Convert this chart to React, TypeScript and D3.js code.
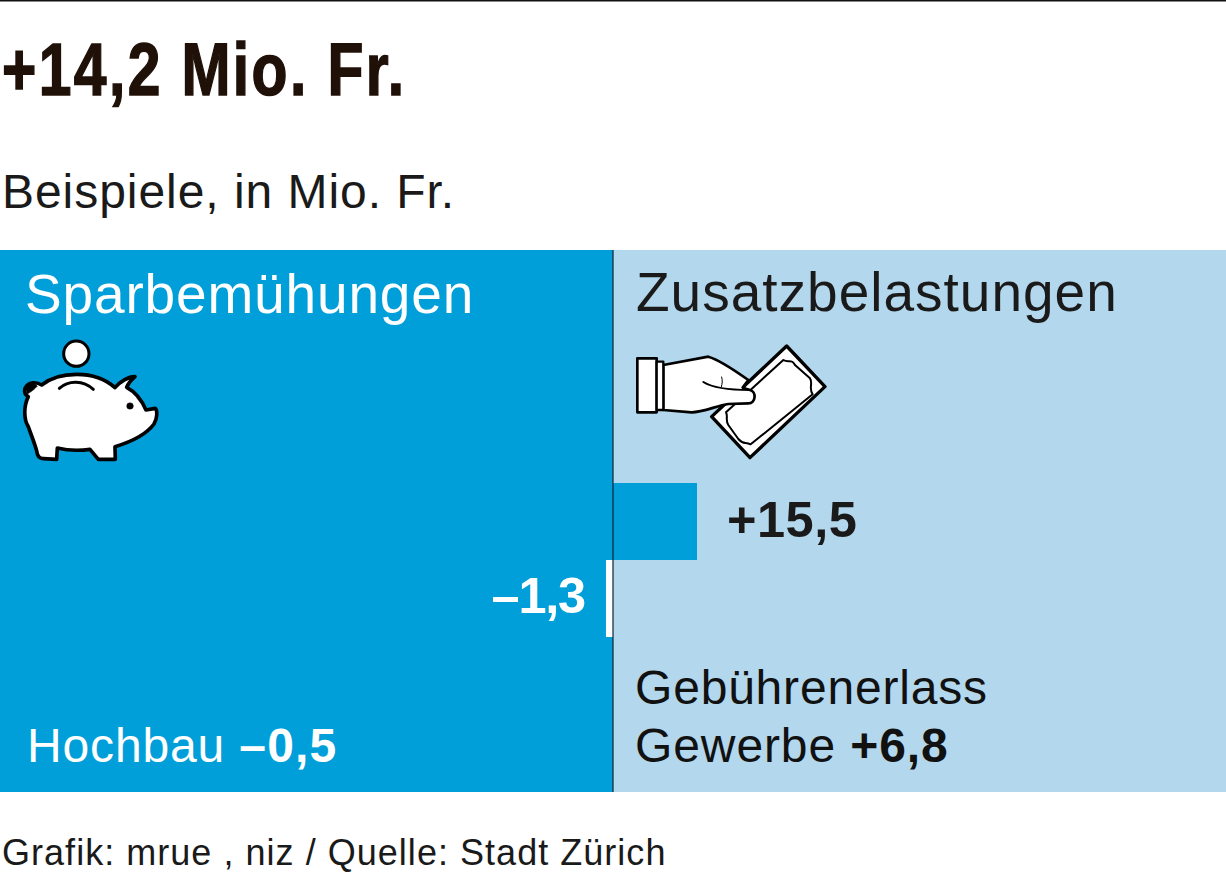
import React from "react";
import * as d3 from "d3";

const headline = "+14,2 Mio. Fr.";
const subtitle = "Beispiele, in Mio. Fr.";
const source = "Grafik: mrue , niz / Quelle: Stadt Zürich";
const leftTitle = "Sparbemühungen";
const rightTitle = "Zusatzbelastungen";
const barRows = ["Zusatz", "Spar"];
const barValues = [15.5, -1.3];
const barLabels = ["+15,5", "–1,3"];

const BLUE = "#009fda";
const LIGHT = "#b3d7ec";
const INK = "#1a1a1a";
const SANS = "'Liberation Sans', Arial, sans-serif";

const x = d3.scaleLinear().domain([0, 15.5]).range([613, 697]);
const y = d3.scaleBand<string>().domain(barRows).range([483, 637]);

function Pig() {
  return (
    <g transform="translate(0,330) scale(0.3333)" stroke="#000" strokeLinejoin="round" strokeLinecap="round">
      <circle cx={229} cy={71} r={38} fill="#fff" strokeWidth={9} />
      <path d="M85,200 C70,230 72,270 84,288 C92,310 102,335 110,362 Q112,386 130,386 L170,388 L172,354 C205,362 240,362 270,358 L295,388 L346,388 L345,350 C395,335 440,312 462,282 C472,265 473,242 466,235 L438,240 C425,210 405,185 380,172 C385,160 393,150 405,140 C385,140 360,155 345,173 C320,150 280,133 230,133 C190,133 150,145 125,165 C110,155 85,155 75,175 C70,190 78,195 85,200 Z" fill="#fff" strokeWidth={11} />
      <path d="M77,176 C84,158 100,156 112,168 C104,178 92,186 82,192 Z" fill="#000" strokeWidth={2} />
      <path d="M178,175 C205,150 250,150 280,178" fill="none" strokeWidth={9} />
      <circle cx={390} cy={228} r={10} fill="#000" strokeWidth={1} />
    </g>
  );
}

function Hand() {
  return (
    <g transform="translate(620,335) scale(0.3333)" stroke="#000" strokeLinejoin="round" strokeLinecap="round">
      <path d="M500,33 L615,155 L390,368 L275,245 Z" fill="#fff" strokeWidth={10} />
      <path d="M490,75 C505,85 515,70 525,90 L570,130 C580,145 565,160 578,178 L392,328 C375,320 370,330 355,312 L325,270 C315,255 325,245 318,232 Z" fill="#fff" strokeWidth={6} />
      <path d="M130,90 L265,65 C300,75 350,110 385,135 L368,158 L390,165 C410,170 408,205 385,205 L325,207 C290,212 250,232 215,232 L130,225 Z" fill="#fff" strokeWidth={8} />
      <path d="M250,141 C280,160 330,165 390,165" fill="none" strokeWidth={6} />
      <path d="M305,126 C308,136 307,146 304,156" fill="none" strokeWidth={3} />
      <rect x={52} y={70} width={58} height={162} fill="#fff" strokeWidth={8} />
      <rect x={110} y={80} width={20} height={145} fill="#fff" strokeWidth={7} />
    </g>
  );
}

export default function App() {
  const band = y.bandwidth();
  return (
    <svg width={1226} height={875} viewBox="0 0 1226 875" style={{ position: "absolute", left: 0, top: 0, background: "#fff" }}>
      <rect x={0} y={0} width={1226} height={1.5} fill="#111" />
      <text transform="translate(2,94.5) scale(0.8,1)" fontFamily={SANS} fontWeight={700} fontSize={73.5} letterSpacing={3} fill="#1f1108" stroke="#1f1108" strokeWidth={1.5}>{headline}</text>
      <text x={2} y={208} fontFamily={SANS} fontSize={48} fill={INK} letterSpacing={0.95}>{subtitle}</text>

      <rect x={0} y={250} width={613} height={542} fill={BLUE} />
      <rect x={613} y={250} width={613} height={542} fill={LIGHT} />

      <text x={25} y={313} fontFamily={SANS} fontSize={55} fill="#fff" letterSpacing={0.85}>{leftTitle}</text>
      <text x={636} y={311} fontFamily={SANS} fontSize={55} fill={INK} letterSpacing={1}>{rightTitle}</text>

      <Pig />
      <Hand />

      {barValues.map((v, i) => (
        <rect
          key={barRows[i]}
          x={Math.min(x(0), x(v))}
          y={y(barRows[i])}
          width={Math.abs(x(v) - x(0))}
          height={band}
          fill={v >= 0 ? BLUE : "#fff"}
        />
      ))}
      <line x1={613} x2={613} y1={250} y2={792} stroke="#123" strokeWidth={1.2} />

      <text x={727} y={536.5} fontFamily={SANS} fontWeight={700} fontSize={50.5} fill={INK} letterSpacing={0.5}>{barLabels[0]}</text>
      <text x={585} y={612.5} textAnchor="end" fontFamily={SANS} fontWeight={700} fontSize={50.5} fill="#fff" letterSpacing={-1.2}>{barLabels[1]}</text>

      <text x={27} y={762} fontFamily={SANS} fontSize={48} fill="#fff" letterSpacing={0.85}>Hochbau <tspan fontWeight={700} letterSpacing={1.2}>–0,5</tspan></text>
      <text x={635} y={704} fontFamily={SANS} fontSize={48} fill="#111" letterSpacing={0.8}>Gebührenerlass</text>
      <text x={635} y={762} fontFamily={SANS} fontSize={48} fill="#111" letterSpacing={0.9}>Gewerbe <tspan fontWeight={700}>+6,8</tspan></text>

      <text x={2} y={865} fontFamily={SANS} fontSize={36} fill={INK} letterSpacing={1.03}>{source}</text>
    </svg>
  );
}
